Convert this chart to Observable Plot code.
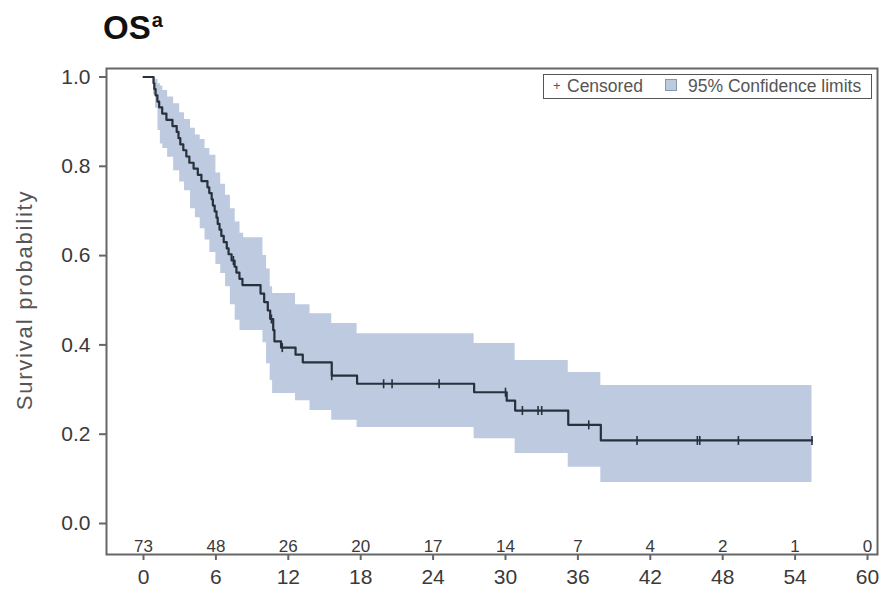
<!DOCTYPE html>
<html>
<head>
<meta charset="utf-8">
<script src="https://cdn.jsdelivr.net/npm/d3@7"></script>
<script src="https://cdn.jsdelivr.net/npm/@observablehq/plot@0.6"></script>
<style>
  body { margin: 0; background: #fff; font-family: "Liberation Sans", Arial, sans-serif; }
  #wrap { position: relative; width: 881px; height: 593px; overflow: hidden; }
  #title { position: absolute; left: 103px; top: 11px; font-size: 33px; font-weight: bold; line-height: 33px; color: #111; }
  #title span { font-size: 20px; position: relative; top: -12px; margin-left: 1px; }
  #chart { position: absolute; left: 0; top: 50px; }
  #ylabel { position: absolute; left: -105px; top: 288px; width: 260px; height: 24px; line-height: 24px;
            text-align: center; transform: rotate(-90deg); font-size: 22px; letter-spacing: 1.8px; color: #555; }
  #legend { position: absolute; left: 543px; top: 74px; width: 329px; height: 25px; box-sizing: border-box;
            border: 1.5px solid #555; background: #fff; color: #555; font-size: 17.5px; }
  #legend .item { position: absolute; top: 1px; line-height: 20px; white-space: nowrap; }
  #legend .swatch { position: absolute; left: 121px; top: 4px; width: 12px; height: 12px; box-sizing: border-box;
                    background: #bccade; border: 1px solid #8a97ab; }
</style>
</head>
<body>
<div id="wrap">
  <div id="title">OS<span>a</span></div>
  <div id="chart"></div>
  <div id="ylabel">Survival probability</div>
  <div id="legend">
    <div class="item" style="left:9px;font-size:13px;">+</div>
    <div class="item" style="left:23px;">Censored</div>
    <div class="swatch"></div>
    <div class="item" style="left:144px;">95% Confidence limits</div>
  </div>
</div>
<script>
// Kaplan–Meier estimate of overall survival (months)
const kmTime = [0, 0.83, 0.9, 1.0, 1.15, 1.3, 1.55, 1.9, 2.4, 2.75,
  2.9, 3.05, 3.3, 3.55, 3.8, 4.15, 4.5, 4.8, 5.3, 5.45,
  5.65, 5.75, 5.9, 6.05, 6.15, 6.3, 6.45, 6.65, 6.9, 7.05,
  7.3, 7.55, 7.7, 7.95, 8.2, 9.7, 10.0, 10.3, 10.5, 10.75,
  10.85, 11.4, 12.6, 13.2, 15.6, 17.7, 27.4, 30.1, 30.8, 35.2,
  37.9];
const kmSurv = [1, 0.986, 0.973, 0.959, 0.945, 0.932, 0.918, 0.904, 0.890, 0.877,
  0.863, 0.849, 0.836, 0.822, 0.808, 0.795, 0.781, 0.767, 0.753, 0.740,
  0.726, 0.712, 0.699, 0.685, 0.671, 0.658, 0.644, 0.630, 0.616, 0.603,
  0.589, 0.575, 0.562, 0.548, 0.534, 0.515, 0.496, 0.477, 0.458, 0.433,
  0.408, 0.394, 0.378, 0.361, 0.331, 0.313, 0.294, 0.275, 0.253, 0.221,
  0.186];

// Censoring times (months)
const censorTime = [7.45, 10.6, 11.5, 15.6, 19.9, 20.6, 24.5, 30.0, 31.4, 32.7,
  33.0, 36.9, 40.9, 45.9, 46.1, 49.3, 55.4];

// 95% pointwise confidence limits
const ciTime  = [0, 0.83, 1.0, 1.2, 1.4, 1.6, 2.0, 2.5, 3.0, 3.4,
  3.9, 4.3, 4.7, 5.1, 5.5, 6.0, 6.4, 6.8, 7.2, 7.6,
  8.0, 8.3, 9.9, 10.2, 10.5, 10.7, 12.6, 13.8, 15.6, 17.7,
  27.4, 30.8, 35.2, 37.9, 55.4];
const ciLower = [1.0, 0.96, 0.93, 0.88, 0.85, 0.84, 0.82, 0.79, 0.765, 0.745,
  0.705, 0.685, 0.66, 0.635, 0.607, 0.58, 0.56, 0.53, 0.49, 0.455,
  0.432, 0.432, 0.405, 0.358, 0.32, 0.291, 0.275, 0.253, 0.231, 0.215,
  0.19, 0.157, 0.126, 0.092, 0.092];
const ciUpper = [1.0, 1.0, 0.995, 0.985, 0.98, 0.97, 0.955, 0.94, 0.92, 0.905,
  0.885, 0.87, 0.86, 0.84, 0.825, 0.785, 0.76, 0.735, 0.705, 0.675,
  0.65, 0.64, 0.60, 0.57, 0.53, 0.515, 0.49, 0.47, 0.448, 0.425,
  0.403, 0.365, 0.338, 0.309, 0.309];

// Number at risk
const riskMonths = [0, 6, 12, 18, 24, 30, 36, 42, 48, 54, 60];
const atRisk = [73, 48, 26, 20, 17, 14, 7, 4, 2, 1, 0];
const yTicks = [0, 0.2, 0.4, 0.6, 0.8, 1.0];

// Tables for the marks
const lastTime = d3.max(censorTime);
const km = kmTime.map((t, i) => ({t, s: kmSurv[i]}));
const kmLine = [...km, {t: lastTime, s: kmSurv[kmSurv.length - 1]}];
const survAt = t => km[d3.bisector(d => d.t).right(km, t) - 1].s;
const censored = censorTime.map(t => ({t, s: survAt(t)}));
const band = ciTime.map((t, i) => ({t, lower: ciLower[i], upper: ciUpper[i]}));
const risk = riskMonths.map((m, i) => ({m, n: atRisk[i]}));

// Vertical tick used to flag censored observations
const censorTick = {
  draw(context, size) {
    const r = Math.sqrt(size / Math.PI);
    context.moveTo(0, -r);
    context.lineTo(0, r);
  }
};

const ink = "#27303c";
const chart = Plot.plot({
  width: 881,
  height: 543,
  marginLeft: 106,
  marginRight: 4,
  marginTop: 18,
  marginBottom: 39,
  insetLeft: 37,
  insetRight: 10,
  insetTop: 8.5,
  insetBottom: 31,
  style: {fontFamily: "'Liberation Sans', Arial, sans-serif", background: "transparent", color: "#3a3a3a"},
  x: {domain: [0, 60]},
  y: {domain: [0, 1]},
  marks: [
    Plot.areaY(band, {x: "t", y1: "lower", y2: "upper", curve: "step-after", fill: "#bdcadf"}),
    Plot.line(kmLine, {x: "t", y: "s", curve: "step-after", stroke: ink, strokeWidth: 2.2}),
    Plot.dot(censored, {x: "t", y: "s", symbol: censorTick, r: 4.5, fill: "none", stroke: ink, strokeWidth: 1.6}),
    Plot.text(risk, {x: "m", text: d => String(d.n), frameAnchor: "bottom", lineAnchor: "bottom", dy: -3, fontSize: 17, fill: "#3a3a3a"}),
    Plot.axisX({ticks: riskMonths, tickSize: 6, tickPadding: 9, fontSize: 21, label: null, stroke: "#666", strokeWidth: 2, fill: "#3a3a3a"}),
    Plot.axisY({ticks: yTicks, tickFormat: d3.format(".1f"), tickSize: 7, tickPadding: 9, fontSize: 21, label: null, stroke: "#666", strokeWidth: 2, fill: "#3a3a3a"}),
    Plot.frame({stroke: "#666", strokeWidth: 2})
  ]
});
document.getElementById("chart").appendChild(chart);
</script>
</body>
</html>
